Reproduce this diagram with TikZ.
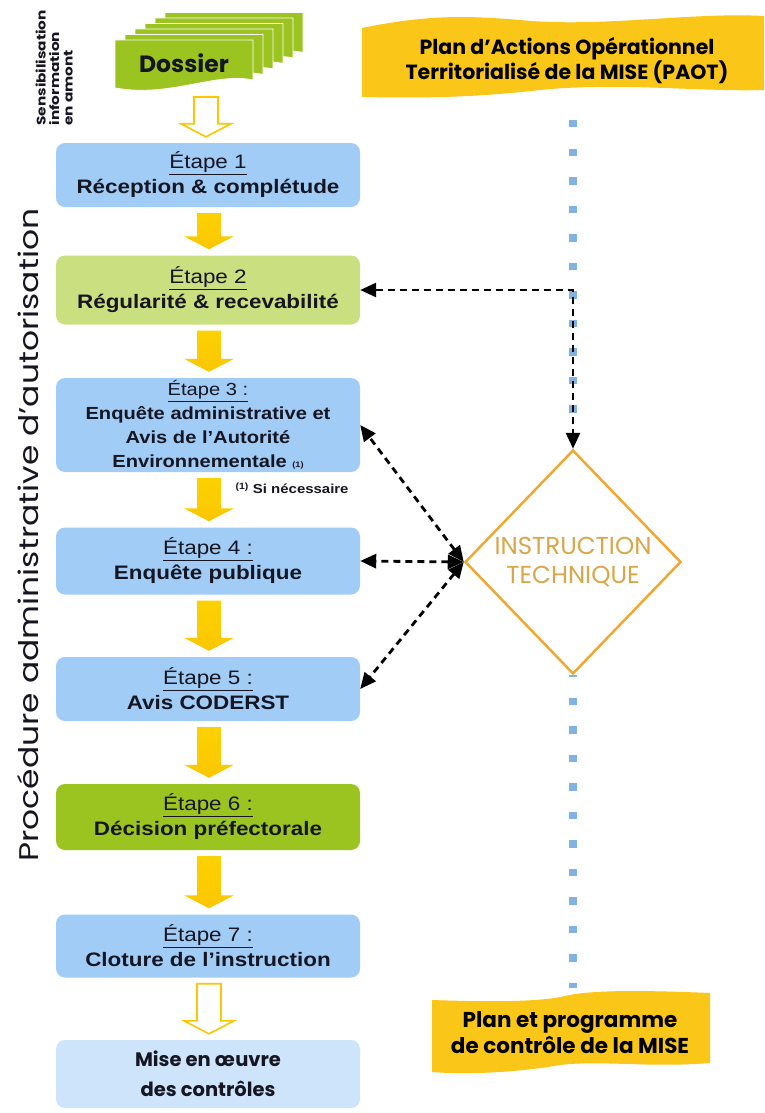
\documentclass[tikz,border=0pt]{standalone}
\usepackage{fontspec}
\setmainfont{Liberation Sans}
\newfontfamily\boxfont[FakeStretch=1.15]{Liberation Sans}
\newfontfamily\goth{Poppins}
\newfontfamily\gothw[FakeStretch=1.22]{Poppins}
\usetikzlibrary{shapes.geometric,arrows.meta,calc}
\definecolor{bluebox}{RGB}{160,204,246}
\definecolor{lgreen}{RGB}{202,223,128}
\definecolor{dgreen}{RGB}{156,196,32}
\definecolor{lightbox}{RGB}{206,228,250}
\definecolor{ycol}{RGB}{252,198,0}
\definecolor{banyellow}{RGB}{250,198,24}
\definecolor{dorange}{RGB}{240,168,48}
\definecolor{dtext}{RGB}{218,166,74}
\definecolor{dotblue}{RGB}{128,178,226}
\definecolor{txt}{RGB}{22,22,34}
\newcommand\blockarrow[4]{%
  \path[#1] let \p1=(#3), \p2=(#4) in
    (#2pt-12pt,\y1-6pt) -- (#2pt+12pt,\y1-6pt) -- (#2pt+12pt,\y2+19pt) --
    (#2pt+25pt,\y2+19pt) -- (#2pt,\y2+6pt) -- (#2pt-25pt,\y2+19pt) --
    (#2pt-12pt,\y2+19pt) -- cycle;}
\begin{document}
\begin{tikzpicture}[x=1pt,y=-1pt,
  stepbox/.style={rectangle, rounded corners=9pt, minimum width=304pt,
    inner sep=0pt, align=center, text=txt,
    font=\boxfont\fontsize{19.5}{25}\selectfont},
  yfill/.style={top color=ycol!80!yellow, bottom color=ycol},
  yhollow/.style={fill=white, draw=ycol, line width=1.6pt},
  sheet/.style={fill=dgreen, draw=white, line width=0.9pt},
  bantext/.style={font=\goth\bfseries\fontsize{20.5}{25}\selectfont, align=center, text=black},
  darr/.style={draw=black, line width=2.8pt, dash pattern=on 7pt off 5pt,
    {Triangle[length=16pt,width=14pt]}-{Triangle[length=16pt,width=14pt]}},
  dots/.style={draw=dotblue, line width=7.5pt, dash pattern=on 7.5pt off 21pt}]
\useasboundingbox (0,0) rectangle (764,1113);
\fill[white] (0,0) rectangle (764,1113);

% Dossier stack
\foreach \i in {5,4,3,2,1,0}{
  \path[sheet, shift={(10*\i,-5.5*\i)}] (115,40) -- (253,40) -- (253,80)
    .. controls (215,72) and (170,98) .. (115,88) -- cycle;
}
\node[font=\goth\bfseries\fontsize{23.5}{24}\selectfont, text=txt] (dos) at (184,63) {Dossier};
\coordinate (dosb) at (206,91);

\node[rotate=90, anchor=north west, align=left, text=txt,
  font=\gothw\bfseries\fontsize{12.5}{13.5}\selectfont] (sens) at (32,129)
  {Sensibilisation\\information\\en amont};

% top banner
\path[fill=banyellow] (362,28) .. controls (430,14) and (470,16) .. (520,20)
  .. controls (600,28) and (690,12) .. (764,16) -- (764,90)
  .. controls (700,92) and (620,82) .. (540,90)
  .. controls (470,98) and (420,98) .. (362,97) -- cycle;
\node[bantext] (paot) at (567,61) {Plan d’Actions Opérationnel\\Territorialisé de la MISE (PAOT)};

% bottom banner
\path[fill=banyellow] (432,1000) .. controls (490,1002) and (540,1002) .. (565,996)
  .. controls (590,990) and (640,990) .. (710,993) -- (710,1063)
  .. controls (650,1068) and (600,1060) .. (560,1065)
  .. controls (520,1072) and (470,1075) .. (432,1072) -- cycle;
\node[bantext, font=\goth\bfseries\fontsize{21.5}{26}\selectfont] (ppc) at (570,1033) {Plan et programme\\de contrôle de la MISE};

% vertical label
\node[rotate=90, text=txt, font=\gothw\fontsize{27}{27}\selectfont] (proc) at (28,535)
  {Procédure administrative d’autorisation};

% boxes
\node[stepbox, fill=bluebox, minimum height=64pt] (b1) at (208,175)
  {\underline{Étape 1}\\\textbf{Réception \& complétude}};
\node[stepbox, fill=lgreen, minimum height=69pt] (b2) at (208,290)
  {\underline{Étape 2}\\\textbf{Régularité \& recevabilité}};
\node[stepbox, fill=bluebox, minimum height=94pt, font=\boxfont\fontsize{17.5}{24}\selectfont] (b3) at (208,425)
  {\underline{Étape 3 :}\\\textbf{Enquête administrative et}\\\textbf{Avis de l’Autorité}\\\textbf{Environnementale {\fontsize{8}{8}\selectfont(1)}}};
\node[stepbox, fill=bluebox, minimum height=67pt] (b4) at (208,561)
  {\underline{Étape 4 :}\\\textbf{Enquête publique}};
\node[stepbox, fill=bluebox, minimum height=64pt] (b5) at (208,689)
  {\underline{Étape 5 :}\\\textbf{Avis CODERST}};
\node[stepbox, fill=dgreen, minimum height=66pt] (b6) at (208,817)
  {\underline{Étape 6 :}\\\textbf{Décision préfectorale}};
\node[stepbox, fill=bluebox, minimum height=63pt] (b7) at (208,946)
  {\underline{Étape 7 :}\\\textbf{Cloture de l’instruction}};
\node[stepbox, fill=lightbox, minimum height=68pt, font=\goth\bfseries\fontsize{19.5}{30}\selectfont] (b8) at (208,1074)
  {Mise en œuvre\\des contrôles};

\node[anchor=west, text=txt, font=\boxfont\bfseries\fontsize{13}{13}\selectfont] (fn) at (232,488)
  {\textsuperscript{(1)} Si nécessaire};

% block arrows
\blockarrow{yhollow}{206}{dosb}{b1.north}
\blockarrow{yfill}{209}{b1.south}{b2.north}
\blockarrow{yfill}{209}{b2.south}{b3.north}
\blockarrow{yfill}{209}{b3.south}{b4.north}
\blockarrow{yfill}{209}{b4.south}{b5.north}
\blockarrow{yfill}{209}{b5.south}{b6.north}
\blockarrow{yfill}{209}{b6.south}{b7.north}
\blockarrow{yhollow}{209}{b7.south}{b8.north}

% diamond
\node[diamond, draw=dorange, line width=2.5pt, minimum width=216pt, minimum height=224pt,
  inner sep=-12pt, aspect=0.964, text=dtext, align=center,
  font=\goth\fontsize{24.5}{29}\selectfont] (it) at (573,562) {INSTRUCTION\\TECHNIQUE};

% blue dotted line
\coordinate (d1) at (573,120);
\coordinate (d2) at (573,988);
\draw[dots] (d1) -- (it.north);
\draw[dots, dash phase=6pt] (it.south) -- (d2);

% dashed arrows
\coordinate (corner) at (it.north |- b2.east);
\draw[darr] (b2.east) -- (corner) -- (it.north);
\draw[darr] (it.west) -- (b3.east);
\draw[darr] (it.west) -- (b4.east);
\draw[darr] (it.west) -- (b5.east);
\end{tikzpicture}
\end{document}
